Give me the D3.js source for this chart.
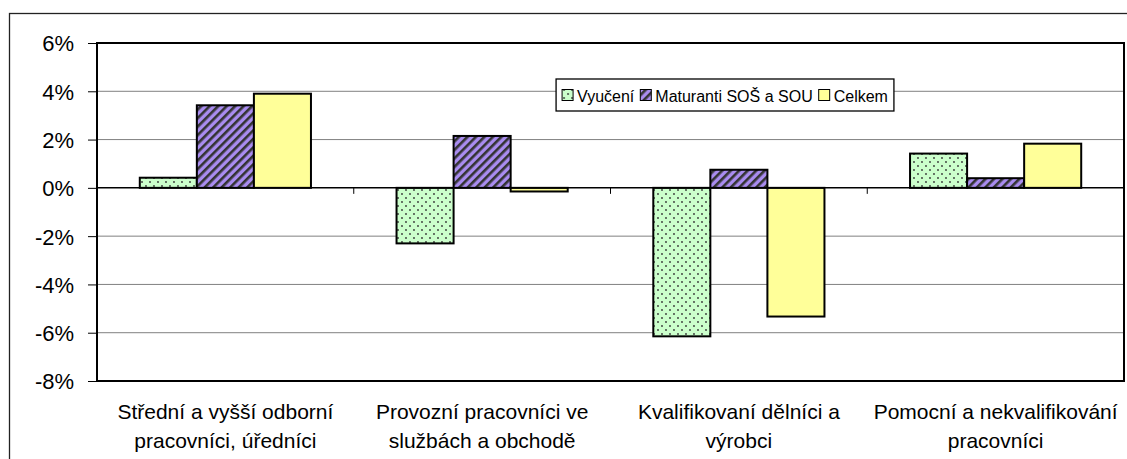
<!DOCTYPE html>
<html>
<head>
<meta charset="utf-8">
<script src="https://cdn.jsdelivr.net/npm/d3@7"></script>
<style>
  body { margin: 0; background: #fff; }
  svg { display: block; font-family: "Liberation Sans", Arial, sans-serif; }
</style>
</head>
<body>
<div id="chart"></div>
<script>
var categories = [
    ["Střední a vyšší odborní", "pracovníci, úředníci"],
    ["Provozní pracovníci ve", "službách a obchodě"],
    ["Kvalifikovaní dělníci a", "výrobci"],
    ["Pomocní a nekvalifikování", "pracovníci"]
];
var seriesNames = ["Vyučení", "Maturanti SOŠ a SOU", "Celkem"];
var vyuceni = [0.42, -2.3, -6.15, 1.42];
var maturanti = [3.42, 2.15, 0.75, 0.4];
var celkem = [3.9, -0.15, -5.33, 1.83];
var yTicks = [6, 4, 2, 0, -2, -4, -6, -8];

var width = 1127,
    height = 459;

var margin = {left: 97, top: 43, right: 1124, bottom: 381};

var svg = d3.select("#chart")
    .append("svg")
        .attr("width", width)
        .attr("height", height);

var defs = svg.append("defs");

// dotted pattern for Vyučení
var dots = defs.append("pattern")
    .attr("id", "dots")
    .attr("patternUnits", "userSpaceOnUse")
    .attr("width", 8).attr("height", 8);
dots.append("rect").attr("width", 8).attr("height", 8).attr("fill", "#CCFFCC");
dots.append("circle").attr("cx", 2).attr("cy", 2).attr("r", 0.9).attr("fill", "#333");
dots.append("circle").attr("cx", 6).attr("cy", 6).attr("r", 0.9).attr("fill", "#333");

// diagonal stripes for Maturanti
var stripes = defs.append("pattern")
    .attr("id", "stripes")
    .attr("patternUnits", "userSpaceOnUse")
    .attr("width", 6).attr("height", 6)
    .attr("patternTransform", "rotate(45)");
stripes.append("rect").attr("width", 6).attr("height", 6).attr("fill", "#A98CF0");
stripes.append("rect").attr("width", 2.6).attr("height", 6).attr("fill", "#333");

var fills = ["url(#dots)", "url(#stripes)", "#FFFF99"];

// outer chart frame (cut off on the right and bottom)
svg.append("rect")
    .attr("x", 9.5).attr("y", 13.5)
    .attr("width", 1130).attr("height", 460)
    .attr("fill", "none")
    .attr("stroke", "#222")
    .attr("stroke-width", 1.3);

var x = d3.scaleBand()
    .domain(d3.range(categories.length))
    .range([margin.left, margin.right]);

var xInner = d3.scaleBand()
    .domain(d3.range(seriesNames.length))
    .range([0, x.bandwidth()])
    .paddingOuter(0.75);

var y = d3.scaleLinear()
    .domain([-8, 6])
    .range([margin.bottom, margin.top]);

// gridlines
svg.append("g")
    .selectAll("line")
    .data(yTicks.filter(function(d){ return d != 0 && d != 6 && d != -8; }))
    .enter()
    .append("line")
      .attr("x1", margin.left).attr("x2", margin.right)
      .attr("y1", function(d){ return y(d); })
      .attr("y2", function(d){ return y(d); })
      .attr("stroke", "#808080")
      .attr("stroke-width", 1);

// y axis
var yAxis = svg.append("g")
    .attr("transform", "translate(" + margin.left + ",0)")
    .call(d3.axisLeft(y)
        .tickValues(yTicks)
        .tickSize(9)
        .tickPadding(14)
        .tickFormat(function(d){ return d + "%"; }));
yAxis.select(".domain").remove();
yAxis.selectAll(".tick line").attr("stroke", "#000");
yAxis.selectAll("text")
    .attr("fill", "#000")
    .attr("dy", "0.36em")
    .style("font-size", "22px");

// bars
var seriesData = [vyuceni, maturanti, celkem];
seriesData.forEach(function(vals, s) {
    svg.append("g")
        .selectAll("rect")
        .data(vals)
        .enter()
        .append("rect")
          .attr("x", function(d, i){ return x(i) + xInner(s); })
          .attr("width", xInner.bandwidth())
          .attr("y", function(d){ return y(Math.max(0, d)); })
          .attr("height", function(d){ return Math.abs(y(d) - y(0)); })
          .attr("fill", fills[s])
          .attr("stroke", "#000")
          .attr("stroke-width", 2);
});

// zero line with category ticks
svg.append("line")
    .attr("x1", margin.left).attr("x2", margin.right)
    .attr("y1", y(0)).attr("y2", y(0))
    .attr("stroke", "#000").attr("stroke-width", 1.5);
svg.append("g")
    .selectAll("line")
    .data(d3.range(1, categories.length))
    .enter()
    .append("line")
      .attr("x1", function(d){ return x(d); })
      .attr("x2", function(d){ return x(d); })
      .attr("y1", y(0)).attr("y2", y(0) + 6)
      .attr("stroke", "#000").attr("stroke-width", 1);

// plot area frame
svg.append("rect")
    .attr("x", margin.left).attr("y", margin.top)
    .attr("width", margin.right - margin.left)
    .attr("height", margin.bottom - margin.top)
    .attr("fill", "none")
    .attr("stroke", "#000")
    .attr("stroke-width", 2);

// category labels
var labels = svg.append("g")
    .selectAll("text")
    .data(categories)
    .enter()
    .append("text")
      .attr("text-anchor", "middle")
      .attr("x", function(d, i){ return x(i) + x.bandwidth() / 2; })
      .attr("y", 419)
      .style("font-size", "21px")
      .attr("fill", "#000");
labels.selectAll("tspan")
    .data(function(d){ return d; })
    .enter()
    .append("tspan")
      .attr("x", function(){ return d3.select(this.parentNode).attr("x"); })
      .attr("dy", function(d, i){ return i == 0 ? 0 : 29; })
      .text(function(d){ return d; });

// legend, centred above the third category group
var legend = svg.append("g");
var legendBox = legend.append("rect")
    .attr("y", 79)
    .attr("height", 32)
    .attr("fill", "#fff")
    .attr("stroke", "#000").attr("stroke-width", 1.3);
var items = legend.selectAll("g.item")
    .data(seriesNames)
    .enter()
    .append("g").attr("class", "item");
items.append("rect")
    .attr("y", 89.5)
    .attr("width", 11).attr("height", 11)
    .attr("fill", function(d, i){ return fills[i]; })
    .attr("stroke", "#000").attr("stroke-width", 1);
items.append("text")
    .attr("x", 15).attr("y", 101.5)
    .style("font-size", "16px")
    .text(function(d){ return d; });
var lx = 6;
items.each(function(){
    d3.select(this).attr("transform", "translate(" + lx + ",0)");
    lx += 15 + d3.select(this).select("text").node().getComputedTextLength() + 6;
});
var legendW = lx;
var legendX = 725 - legendW / 2;
legend.attr("transform", "translate(" + legendX + ",0)");
legendBox.attr("width", legendW);
</script>
</body>
</html>
